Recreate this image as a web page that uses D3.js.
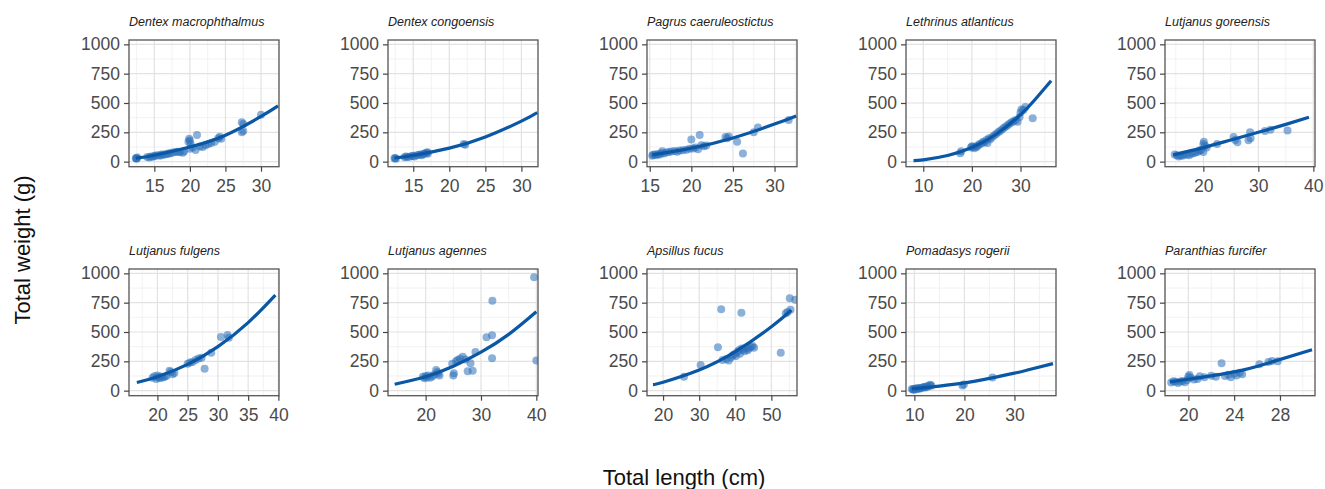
<!DOCTYPE html>
<html><head><meta charset="utf-8">
<script src="https://cdn.jsdelivr.net/npm/d3@7"></script>
<style>body{margin:0;background:#fff;} svg{display:block;font-family:"Liberation Sans",Arial,sans-serif;}</style>
</head><body><svg id="c" width="1325" height="489"></svg>
<script>
// ---------- data ----------
const speciesNames = ["Dentex macrophthalmus","Dentex congoensis","Pagrus caeruleostictus","Lethrinus atlanticus","Lutjanus goreensis",
  "Lutjanus fulgens","Lutjanus agennes","Apsillus fucus","Pomadasys rogerii","Paranthias furcifer"];
const yTicks = [0,250,500,750,1000];
const xTicks = [[15,20,25,30],[15,20,25,30],[15,20,25,30],[10,20,30],[20,30,40],
  [20,25,30,35,40],[20,30,40],[20,30,40,50],[10,20,30],[20,24,28]];
const xDomains = [[11.44,32.53],[11.5,32.3],[14.67,32.7],[6.45,37.3],[13.03,40.3],
  [15.3,40.1],[13.2,40.3],[15.55,57.1],[8.33,38.3],[17.96,31.06]];

const ptsDentexMacro = [[12.4,30],[12.5,25],[12.6,35],[12.5,28],[14.0,40],[14.3,35],[14.5,45],[14.8,42],[15.0,48],[15.2,52],[15.5,55],[15.8,50],[16.0,60],[16.2,58],[16.5,62],[16.8,66],[17.0,70],[17.3,72],[17.6,78],[18.0,82],[18.3,85],[18.6,80],[19.0,75],[19.2,88],[19.8,170],[19.9,195],[20.0,180],[20.1,150],[20.0,110],[20.4,120],[20.8,100],[21.0,228],[21.4,130],[21.8,125],[22.2,140],[22.6,150],[23.0,160],[23.5,170],[24.0,200],[24.2,212],[24.4,196],[27.3,335],[27.5,320],[27.3,250],[27.5,262],[30.0,400]];
const fitDentexMacro = [[12.4,30],[15,55],[20,125],[25,225],[30,385],[32.4,475]];

const ptsDentexCongo = [[12.4,28],[12.5,32],[12.6,25],[13.8,38],[14.0,45],[14.2,40],[14.5,42],[14.8,48],[15.0,50],[15.2,45],[15.5,55],[15.8,58],[16.0,60],[16.2,55],[16.4,65],[16.6,70],[16.8,75],[17.0,80],[17.0,68],[22.0,150],[22.2,145]];
const fitDentexCongo = [[12.4,31],[15,53],[20,115],[25,210],[30,345],[32.2,418]];

const ptsPagrus = [[15.3,50],[15.4,58],[15.6,62],[15.8,55],[16.0,66],[16.2,60],[16.4,72],[16.5,88],[16.7,70],[17.0,78],[17.3,82],[17.6,86],[18.0,90],[18.3,84],[18.6,96],[19.0,98],[19.4,102],[19.8,110],[20.0,188],[20.2,112],[20.5,120],[20.8,105],[21.0,228],[21.2,140],[21.5,132],[21.8,138],[24.1,210],[24.3,200],[24.5,215],[25.5,170],[26.2,70],[27.5,250],[28.0,292],[31.7,355]];
const fitPagrus = [[15.3,58],[20,115],[25,202],[30,320],[32.6,390]];

const ptsLethrinus = [[17.6,72],[17.8,88],[19.8,120],[20.0,132],[20.2,125],[20.5,115],[20.8,130],[21.0,125],[21.3,140],[21.6,150],[22.0,155],[22.3,170],[22.6,165],[23.0,185],[23.2,160],[23.5,200],[23.8,190],[24.2,210],[24.6,225],[25.0,235],[25.4,250],[25.8,262],[26.2,275],[26.6,290],[27.0,300],[27.4,312],[27.8,325],[28.2,335],[28.6,345],[29.0,355],[29.4,340],[29.8,380],[30.0,420],[30.2,445],[30.6,440],[31.0,465],[32.5,370]];
const fitLethrinus = [[8,8],[10,15],[15,52],[20,120],[25,234],[30,400],[33,530],[36.3,690]];

const ptsGoreensis = [[14.8,60],[15.2,55],[15.5,45],[15.8,52],[16.2,50],[16.5,58],[17.0,62],[17.4,55],[17.8,68],[18.2,72],[18.6,78],[19.0,85],[19.3,95],[19.6,100],[20.0,150],[20.1,170],[20.3,135],[20.0,82],[20.6,120],[22.5,150],[25.5,210],[25.8,185],[26.2,165],[28.5,250],[28.2,182],[28.6,200],[31.2,262],[32.2,272],[35.3,265]];
const fitGoreensis = [[14.5,57],[20,120],[25,185],[30,250],[35,318],[39.2,378]];

const ptsFulgens = [[19.2,110],[19.5,122],[19.8,100],[20.0,130],[20.2,115],[20.4,105],[20.6,120],[20.9,112],[21.2,118],[21.5,125],[22.0,170],[22.2,158],[22.5,140],[22.8,150],[25.0,230],[25.4,240],[25.8,245],[26.3,262],[26.8,275],[27.3,280],[27.8,187],[28.9,324],[30.5,458],[31.6,474],[31.8,452]];
const fitFulgens = [[16.6,70],[20,119],[25,224],[30,375],[35,580],[39.5,815]];

const ptsAgennes = [[19.5,118],[19.8,105],[20.0,125],[20.2,112],[20.5,130],[20.8,110],[21.2,120],[21.5,135],[21.9,176],[22.1,160],[22.3,145],[22.5,130],[24.8,230],[25.1,148],[25.0,130],[25.5,250],[25.8,262],[26.2,272],[26.7,290],[27.2,265],[27.6,165],[28.1,233],[28.5,170],[29.0,330],[31.0,455],[32.0,472],[32.06,767],[32.0,276],[39.6,966],[40.0,256]];
const fitAgennes = [[14.4,55],[20,119],[25,208],[30,328],[35,480],[40,673]];

const ptsApsillus = [[25.8,119],[30.4,219],[35.2,370],[36.1,693],[36.5,262],[37.5,270],[38.2,258],[38.8,282],[39.3,300],[39.7,310],[40.2,295],[40.6,330],[41.0,345],[41.3,315],[41.7,664],[41.8,360],[42.2,350],[42.6,335],[43.0,365],[43.4,345],[43.8,360],[44.3,372],[44.8,380],[45.2,365],[52.6,324],[54.0,660],[54.5,670],[55.1,787],[55.3,690],[56.6,775]];
const fitApsillus = [[17.2,51],[20,72],[30,176],[40,332],[50,545],[55.5,686]];

const ptsPomadasys = [[9.5,15],[9.7,10],[9.9,8],[10.0,14],[10.2,18],[10.4,12],[10.6,20],[10.8,16],[11.0,22],[11.2,18],[11.5,25],[11.8,28],[12.0,32],[12.2,26],[12.5,38],[12.7,34],[13.0,45],[13.2,50],[13.4,42],[19.6,45],[19.9,52],[25.6,112]];
const fitPomadasys = [[9.5,15],[15,39],[20,66],[25,105],[30,149],[33,180],[37.7,230]];

const ptsParanthias = [[18.5,70],[18.7,80],[18.9,75],[19.1,65],[19.3,78],[19.5,82],[19.7,72],[19.9,90],[20.0,120],[20.1,134],[20.2,110],[20.5,95],[20.8,100],[21.0,123],[21.4,115],[22.0,128],[22.4,118],[22.9,233],[23.2,125],[23.5,135],[23.7,115],[24.0,145],[24.2,130],[24.5,152],[24.7,140],[26.2,225],[27.0,245],[27.3,252],[27.8,250]];
const fitParanthias = [[18.4,75],[20,97],[24,160],[27,236],[30.8,348]];

const allPoints = [ptsDentexMacro,ptsDentexCongo,ptsPagrus,ptsLethrinus,ptsGoreensis,ptsFulgens,ptsAgennes,ptsApsillus,ptsPomadasys,ptsParanthias];
const allFits = [fitDentexMacro,fitDentexCongo,fitPagrus,fitLethrinus,fitGoreensis,fitFulgens,fitAgennes,fitApsillus,fitPomadasys,fitParanthias];

// ---------- layout ----------
const panelW = 150, panelH = 126.7;
const left0 = 129, pitchX = 259;
const tops = [40, 269];
const yDomain = [-43, 1037];
const lineColor = "#0a57a5", pointColor = "#2b6fba";

const svg = d3.select("#c");
const defs = svg.append("defs");

speciesNames.forEach((name, i) => {
  const col = i % 5, row = Math.floor(i / 5);
  const x0 = left0 + col * pitchX, y0 = tops[row];
  const x = d3.scaleLinear().domain(xDomains[i]).range([x0, x0 + panelW]);
  const y = d3.scaleLinear().domain(yDomain).range([y0 + panelH, y0]);
  const g = svg.append("g");

  // background grid
  const ticks = xTicks[i];
  const step = ticks[1] - ticks[0];
  const minorX = [];
  for (let v = ticks[0] - step / 2; v <= xDomains[i][1]; v += step) if (v >= xDomains[i][0]) minorX.push(v);
  const minorY = [125, 375, 625, 875];
  g.selectAll(".mx").data(minorX).join("line")
    .attr("x1", d => x(d)).attr("x2", d => x(d)).attr("y1", y0).attr("y2", y0 + panelH)
    .attr("stroke", "#efefef").attr("stroke-width", 0.8);
  g.selectAll(".my").data(minorY).join("line")
    .attr("x1", x0).attr("x2", x0 + panelW).attr("y1", d => y(d)).attr("y2", d => y(d))
    .attr("stroke", "#efefef").attr("stroke-width", 0.8);
  g.selectAll(".gx").data(ticks).join("line")
    .attr("x1", d => x(d)).attr("x2", d => x(d)).attr("y1", y0).attr("y2", y0 + panelH)
    .attr("stroke", "#e2e2e2").attr("stroke-width", 1.2);
  g.selectAll(".gy").data(yTicks).join("line")
    .attr("x1", x0).attr("x2", x0 + panelW).attr("y1", d => y(d)).attr("y2", d => y(d))
    .attr("stroke", "#e2e2e2").attr("stroke-width", 1.2);

  // clip
  const cid = "clip" + i;
  defs.append("clipPath").attr("id", cid).append("rect")
    .attr("x", x0).attr("y", y0).attr("width", panelW).attr("height", panelH);
  const plot = g.append("g").attr("clip-path", `url(#${cid})`);

  // points
  plot.selectAll("circle").data(allPoints[i]).join("circle")
    .attr("cx", d => x(d[0])).attr("cy", d => y(d[1])).attr("r", 4)
    .attr("fill", pointColor).attr("fill-opacity", 0.55);

  // fitted curve
  const line = d3.line().x(d => x(d[0])).y(d => y(d[1])).curve(d3.curveNatural);
  plot.append("path").attr("d", line(allFits[i]))
    .attr("fill", "none").attr("stroke", lineColor).attr("stroke-width", 3.2).attr("stroke-linecap", "butt");

  // frame
  g.append("rect").attr("x", x0).attr("y", y0).attr("width", panelW).attr("height", panelH)
    .attr("fill", "none").attr("stroke", "#555").attr("stroke-width", 1.3);

  // axes
  const ax = g.append("g").attr("transform", `translate(0,${y0 + panelH})`)
    .call(d3.axisBottom(x).tickValues(ticks).tickFormat(d3.format("d")).tickSize(5).tickPadding(4));
  const ay = g.append("g").attr("transform", `translate(${x0},0)`)
    .call(d3.axisLeft(y).tickValues(yTicks).tickFormat(d3.format("d")).tickSize(5).tickPadding(4));
  [ax, ay].forEach(a => {
    a.select(".domain").remove();
    a.selectAll(".tick line").attr("stroke", "#444").attr("stroke-width", 1.2);
    a.selectAll(".tick text").attr("fill", "#4a4a4a").style("font-size", "17.5px")
      .style("font-family", '"Liberation Sans", Arial, sans-serif');
  });
  ax.selectAll(".tick text").attr("dy", "0.95em");

  // strip title
  g.append("text").attr("x", x0).attr("y", y0 - 14)
    .attr("font-size", 12.5).attr("font-style", "italic").attr("fill", "#222").text(name);
});

// axis titles
svg.append("text").attr("transform", "translate(30,250) rotate(-90)").attr("text-anchor", "middle")
  .attr("font-size", 22).attr("fill", "#111").text("Total weight (g)");
svg.append("text").attr("x", 684).attr("y", 485).attr("text-anchor", "middle")
  .attr("font-size", 22).attr("fill", "#111").text("Total length (cm)");
</script></body></html>
